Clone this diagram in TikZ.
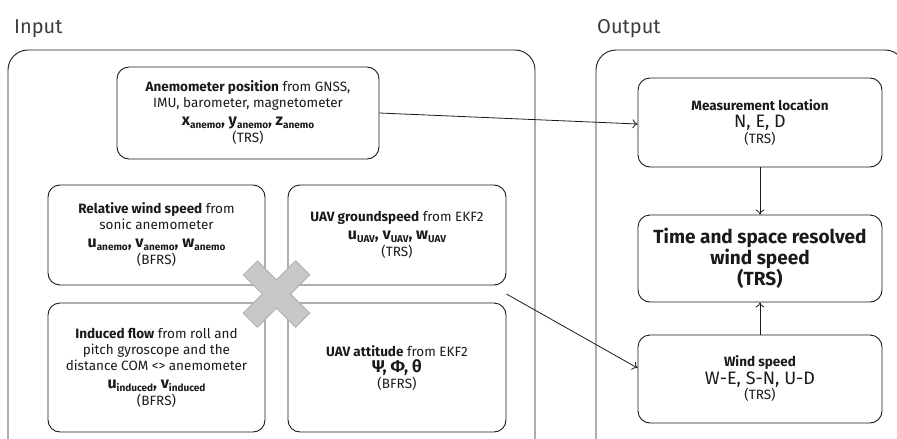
\documentclass[tikz,border=0pt]{standalone}
\usepackage{fontspec}
\setmainfont{Fira Sans}
\usetikzlibrary{arrows.meta,calc}
\definecolor{ink}{HTML}{1A1A1A}
\definecolor{xfill}{HTML}{C8C8C8}
\definecolor{xedge}{HTML}{A8A8A8}
\newcommand\lowsub[1]{\raisebox{-3pt}{\fontsize{10}{10}\selectfont\bfseries #1}}
\newcommand\varline[1]{{\fontsize{16}{18}\selectfont\bfseries #1}}
\tikzset{
  box/.style={draw=ink, line width=0.9pt, rounded corners=12pt, align=center, text=ink,
    font=\fontsize{13.5}{16}\selectfont, inner sep=2pt},
  cont/.style={draw=ink, line width=0.9pt, rounded corners=20pt},
  conn/.style={draw=ink, line width=0.8pt, -{To[length=5pt,width=9pt]}},
  title/.style={font=\fontsize{20}{24}\selectfont, text=ink!85, anchor=base west, inner sep=0pt},
  crossx/.style={fill=xfill, draw=xedge, line width=0.6pt}
}
\begin{document}
\begin{tikzpicture}[x=1pt,y=-1pt]
\useasboundingbox (0,0) rectangle (897,439);
\clip (0,0) rectangle (897,439);
% titles
\node[title] (tin) at (14,33) {Input};
\node[title] (tout) at (597,33) {Output};
% containers
\draw[cont] (8,50) rectangle (535,460);
\draw[cont] (596,50) rectangle (905,460);
% input boxes
\node[box, minimum width=262pt, minimum height=92pt] (anem) at (248,113)
  {\textbf{Anemometer position} from GNSS,\\ IMU, barometer, magnetometer\\[2pt]
   \varline{x\lowsub{anemo}, y\lowsub{anemo}, z\lowsub{anemo}}\\[1pt] (TRS)};
\node[box, minimum width=217pt, minimum height=100pt] (rel) at (156.5,235)
  {\textbf{Relative wind speed} from\\ sonic anemometer\\[2pt]
   \varline{u\lowsub{anemo}, v\lowsub{anemo}, w\lowsub{anemo}}\\[1pt] (BFRS)};
\node[box, minimum width=218pt, minimum height=100pt] (gs) at (397,235)
  {\textbf{UAV groundspeed} from EKF2\\[2pt]
   \varline{u\lowsub{UAV}, v\lowsub{UAV}, w\lowsub{UAV}}\\[1pt] (TRS)};
\node[box, minimum width=217pt, minimum height=129pt] (ind) at (156.5,367.5)
  {\textbf{Induced flow} from roll and\\ pitch gyroscope and the\\ distance COM <> anemometer\\[2pt]
   \varline{u\lowsub{induced}, v\lowsub{induced}}\\[1pt] (BFRS)};
\node[box, minimum width=218pt, minimum height=129pt] (att) at (397,367.5)
  {\textbf{UAV attitude} from EKF2\\
   {\fontsize{17}{19}\selectfont\bfseries Ψ, Φ, θ}\\ (BFRS)};
% output boxes
\node[box, minimum width=244pt, minimum height=89pt] (meas) at (760,122.5)
  {\textbf{Measurement location}\\[1pt]
   {\fontsize{18}{20}\selectfont N, E, D}\\ (TRS)};
\node[box, minimum width=244pt, minimum height=87pt, font=\fontsize{19}{21}\selectfont\bfseries] (time) at (760,258.5)
  {Time and space resolved\\ wind speed\\ (TRS)};
\node[box, minimum width=244pt, minimum height=88pt] (wind) at (760,379)
  {\textbf{Wind speed}\\[1pt]
   {\fontsize{18}{20}\selectfont W-E, S-N, U-D}\\ (TRS)};
% cross mark
\coordinate (xc) at ($(rel.south east)!0.5!(att.north west)$);
\begin{scope}[shift={(xc)}, rotate=45]
  \draw[crossx] (10,10) -- (37,10) -- (37,-10) -- (10,-10) -- (10,-37) -- (-10,-37)
    -- (-10,-10) -- (-37,-10) -- (-37,10) -- (-10,10) -- (-10,37) -- (10,37) -- cycle;
\end{scope}
% connectors
\coordinate (gap) at ($(gs.south east)!0.5!(att.north east)$);
\draw[conn] (anem.east) -- ([yshift=-1.5pt]meas.west);
\draw[conn] (gap) -- ([yshift=11pt]wind.west);
\draw[conn] (meas.south) -- (time.north);
\draw[conn] (wind.north) -- (time.south);
\end{tikzpicture}
\end{document}
